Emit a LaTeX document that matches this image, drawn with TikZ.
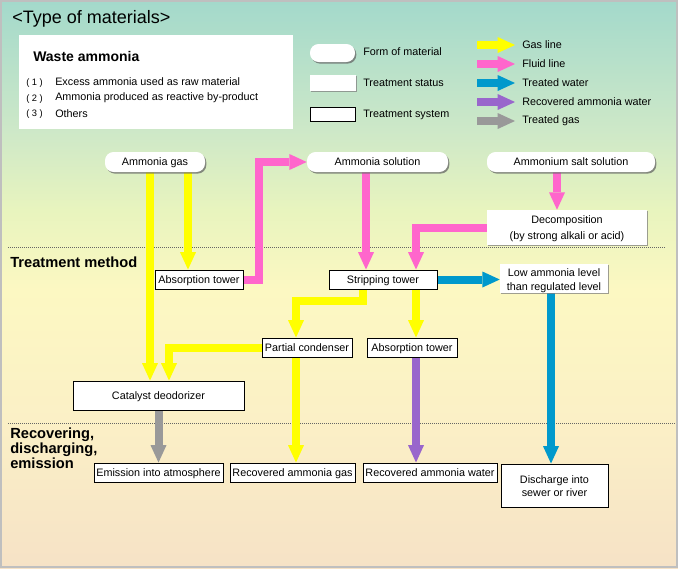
\documentclass[tikz,border=0pt]{standalone}
\usepackage{fontspec}
\setmainfont{Liberation Sans}
\usetikzlibrary{arrows.meta,shadows}
\definecolor{cyel}{RGB}{255,255,0}
\definecolor{cpink}{RGB}{255,102,204}
\definecolor{cblue}{RGB}{0,153,204}
\definecolor{cpurp}{RGB}{153,102,204}
\definecolor{cgray}{RGB}{153,153,153}
\definecolor{bzero}{RGB}{246,226,198}
\definecolor{bone}{RGB}{251,240,198}
\definecolor{btwo}{RGB}{252,248,194}
\definecolor{bthree}{RGB}{232,244,190}
\definecolor{bfour}{RGB}{205,232,200}
\definecolor{bfive}{RGB}{163,217,203}
\pgfdeclareverticalshading{bgshade}{100bp}{color(0bp)=(bzero); color(25bp)=(bzero); color(38bp)=(bone); color(49.5bp)=(btwo); color(56.5bp)=(bthree); color(63.6bp)=(bfour); color(75bp)=(bfive); color(100bp)=(bfive)}
\pgfdeclarelayer{bglayer}
\pgfsetlayers{bglayer,main}
\newcommand{\boxfont}{\fontsize{8.1}{9.8}\selectfont}
\begin{document}
\begin{tikzpicture}[x=0.75pt,y=-0.75pt,
  pill/.style={fill=white, rounded corners=6.5pt, inner sep=0pt, font=\boxfont,
    text height=7pt, text depth=1.6pt,
    drop shadow={shadow xshift=1pt, shadow yshift=-1.2pt, fill=black!60, opacity=0.75}},
  status/.style={fill=white, inner sep=0pt, align=center, font=\boxfont,
    drop shadow={shadow xshift=1pt, shadow yshift=-1pt, fill=black!50, opacity=0.75}},
  sys/.style={fill=white, draw=black, line width=0.75pt, inner sep=0pt, align=center, font=\boxfont},
  sysone/.style={sys, text height=7.4pt, text depth=1.4pt},
  lbl/.style={anchor=west, inner sep=0pt, font=\boxfont},
  arr/.style={line width=6pt, line join=miter, -{Triangle[width=12pt,length=13pt,line width=0pt]}},
  yarr/.style={arr, draw=cyel},
  parr/.style={arr, draw=cpink},
  barr/.style={arr, draw=cblue},
  uarr/.style={arr, draw=cpurp},
  garr/.style={arr, draw=cgray},
  sepline/.style={draw=black!60, line width=0.75pt, dash pattern=on 0.75pt off 0.75pt},
  seclbl/.style={anchor=west, inner sep=0pt, align=left, font=\bfseries\fontsize{11}{9.4}\selectfont}
]
\useasboundingbox (0,0) rectangle (678,568);
\begin{pgfonlayer}{bglayer}
\shade[shading=bgshade] (0,0) rectangle (678,568);
\draw[black!25, line width=1.5pt] (1,1) rectangle (677,567);
\draw[sepline] (8,247) -- (665,247);
\draw[sepline] (8,423) -- (676,423);
\end{pgfonlayer}

% header
\node[anchor=west, inner sep=0pt, font=\fontsize{13.5}{16}\selectfont] (title) at (12,19) {<Type of materials>};
\node[fill=white, minimum width=205.5pt, minimum height=70.5pt, inner sep=0pt] (waste) at (156,82) {};
\node[anchor=west, inner sep=0pt, font=\bfseries\fontsize{10.5}{12}\selectfont] (wt) at (33,56) {Waste ammonia};
\node[anchor=west, inner sep=0pt, font=\fontsize{7}{8}\selectfont] (n1) at (26,83) {(~1~)};
\node[anchor=west, inner sep=0pt, font=\fontsize{7}{8}\selectfont] (n2) at (26,99) {(~2~)};
\node[anchor=west, inner sep=0pt, font=\fontsize{7}{8}\selectfont] (n3) at (26,114) {(~3~)};
\node[lbl] (t1) at (55,82) {Excess ammonia used as raw material};
\node[lbl] (t2) at (55,98) {Ammonia produced as reactive by-product};
\node[lbl] (t3) at (55,114) {Others};

% legend
\node[pill, minimum width=33.75pt, minimum height=13.5pt] (lform) at (332.5,53) {};
\node[status, minimum width=34.5pt, minimum height=12pt] (lstat) at (333,83) {};
\node[sys, minimum width=33.75pt, minimum height=10.5pt] (lsys) at (332.5,114) {};
\node[lbl] (lformt) at (363,52) {Form of material};
\node[lbl] (lstatt) at (363,83) {Treatment status};
\node[lbl] (lsyst) at (363,115) {Treatment system};
\node[lbl] (lg1) at (522,45) {Gas line};
\node[lbl] (lg2) at (522,64) {Fluid line};
\node[lbl] (lg3) at (522,83) {Treated water};
\node[lbl] (lg4) at (522,102) {Recovered ammonia water};
\node[lbl] (lg5) at (522,121) {Treated gas};

% section labels
\node[seclbl] (tm) at (10,262) {Treatment method};
\node[seclbl] (rde) at (10,448) {Recovering,\\discharging,\\emission};

% flow nodes
\node[pill, minimum width=75pt, minimum height=15pt] (gas) at (155,162) {Ammonia gas};
\node[pill, minimum width=105.75pt, minimum height=15pt] (sol) at (377.5,162) {Ammonia solution};
\node[pill, minimum width=126pt, minimum height=15pt] (salt) at (571,162) {Ammonium salt solution};
\node[status, minimum width=120pt, minimum height=26.25pt] (decomp) at (567,227.5) {\rule{0pt}{7.7pt}Decomposition\\[2.2pt](by strong alkali or acid)};
\node[sysone, minimum width=66pt, minimum height=14.25pt] (abs1) at (199,279.5) {Absorption tower};
\node[sysone, minimum width=81pt, minimum height=14.25pt] (strip) at (383,279.5) {Stripping tower};
\node[status, minimum width=81pt, minimum height=21.75pt] (low) at (554,278.5) {\rule{0pt}{9pt}Low ammonia level\\[0.2pt]than regulated level};
\node[sysone, minimum width=67.5pt, minimum height=14.25pt] (pcond) at (307,347.5) {Partial condenser};
\node[sysone, minimum width=67.5pt, minimum height=14.25pt] (abs2) at (412,347.5) {Absorption tower};
\node[sysone, minimum width=128.25pt, minimum height=21.75pt] (cat) at (158.5,395.5) {Catalyst deodorizer};
\node[sysone, minimum width=96.75pt, minimum height=14.25pt] (emis) at (158.5,472.5) {Emission into atmosphere};
\node[sysone, minimum width=93.75pt, minimum height=14.25pt] (recgas) at (292.5,472.5) {Recovered ammonia gas};
\node[sysone, minimum width=100.5pt, minimum height=14.25pt] (recwat) at (430,472.5) {Recovered ammonia water};
\node[sys, minimum width=80.25pt, minimum height=32.25pt] (disch) at (554.5,485.5) {\rule{0pt}{6.5pt}Discharge into\\sewer or river};

\begin{pgfonlayer}{bglayer}
% legend arrows
\draw[yarr] ([xshift=-33.75pt]lg1.west) -- ([xshift=-5.25pt]lg1.west);
\draw[parr] ([xshift=-33.75pt]lg2.west) -- ([xshift=-5.25pt]lg2.west);
\draw[barr] ([xshift=-33.75pt]lg3.west) -- ([xshift=-5.25pt]lg3.west);
\draw[uarr] ([xshift=-33.75pt]lg4.west) -- ([xshift=-5.25pt]lg4.west);
\draw[garr] ([xshift=-33.75pt]lg5.west) -- ([xshift=-5.25pt]lg5.west);
% gas lines
\draw[yarr] (gas.south -| 150,0) -- (cat.north -| 150,0);
\draw[yarr] (gas.south -| 188,0) -- (abs1.north -| 188,0);
\draw[yarr] (strip.south -| 363,0) -- ++(0,11) -| (pcond.north -| 296,0);
\draw[yarr] (strip.south -| 416,0) -- (abs2.north -| 416,0);
\draw[yarr] (pcond.west) -| (cat.north -| 169,0);
\draw[yarr] (pcond.south -| 296,0) -- (recgas.north -| 296,0);
% fluid lines
\draw[parr] (abs1.east) -- ++(15,0) |- (sol.west);
\draw[parr] (sol.south -| 366,0) -- (strip.north -| 366,0);
\draw[parr] (salt.south -| 557,0) -- (decomp.north -| 557,0);
\draw[parr] (decomp.west) -| (strip.north -| 416,0);
% treated water
\draw[barr] (strip.east) -- (strip.east -| low.west);
\draw[barr] (low.south -| 551,0) -- (disch.north -| 551,0);
% recovered ammonia water
\draw[uarr] (abs2.south -| 416,0) -- (recwat.north -| 416,0);
% treated gas
\draw[garr] (cat.south) -- (emis.north);
\end{pgfonlayer}
\end{tikzpicture}
\end{document}
